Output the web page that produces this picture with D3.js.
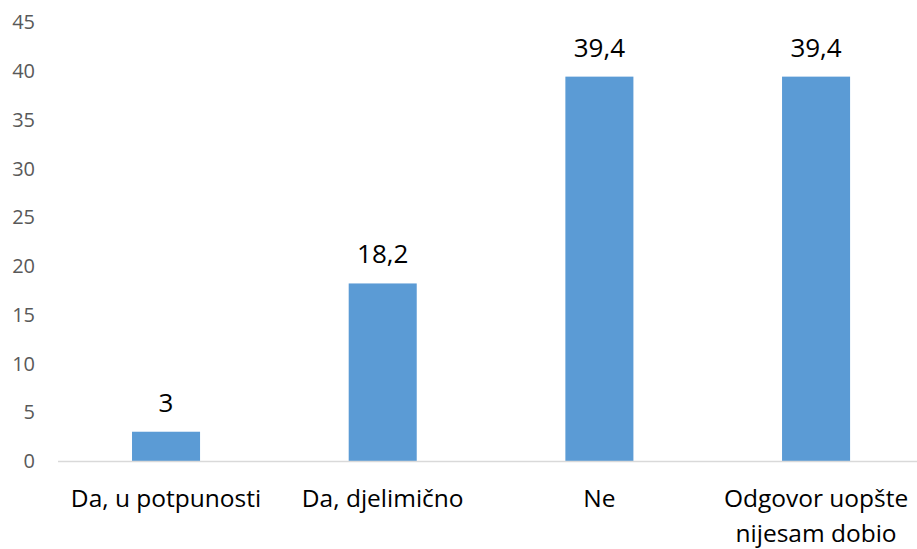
<!DOCTYPE html>
<html><head><meta charset="utf-8">
<script src="https://cdn.jsdelivr.net/npm/d3@7"></script>
<style>body{margin:0;background:#fff;}svg{display:block;}</style>
</head><body>
<svg id="c" width="917" height="549"></svg>
<script>
const categories = ["Da, u potpunosti", "Da, djelimično", "Ne", "Odgovor uopšte nijesam dobio"];
const categoryLines = [["Da, u potpunosti"], ["Da, djelimično"], ["Ne"], ["Odgovor uopšte", "nijesam dobio"]];
const values = [3, 18.2, 39.4, 39.4];
const valueLabels = ["3", "18,2", "39,4", "39,4"];
const yTicks = [0, 5, 10, 15, 20, 25, 30, 35, 40, 45];

const svg = d3.select("#c");
const font = "'Open Sans', 'Liberation Sans', sans-serif";
const x = d3.scaleBand().domain(categories).range([57.7, 924.4]).paddingInner(0.686).paddingOuter(0.343);
const y = d3.scaleLinear().domain([0, 45]).range([461, 22]);

// y tick labels
svg.append("g").selectAll("text").data(yTicks).join("text")
  .attr("x", 35).attr("y", d => y(d)).attr("dy", "0.36em")
  .attr("text-anchor", "end").attr("font-family", font).attr("font-size", 20)
  .attr("fill", "#595959").text(d => d);

// bars
svg.append("g").selectAll("rect").data(values).join("rect")
  .attr("x", (d, i) => x(categories[i])).attr("width", x.bandwidth())
  .attr("y", d => y(d)).attr("height", d => y(0) - y(d))
  .attr("fill", "#5B9BD5");

// baseline
svg.append("line").attr("x1", 58).attr("x2", 917).attr("y1", y(0) + 0.5).attr("y2", y(0) + 0.5)
  .attr("stroke", "#D9D9D9").attr("stroke-width", 1.5);

// value labels
svg.append("g").selectAll("text").data(values).join("text")
  .attr("x", (d, i) => x(categories[i]) + x.bandwidth() / 2).attr("y", d => y(d) - 20)
  .attr("text-anchor", "middle").attr("font-family", font).attr("font-size", 26)
  .attr("fill", "#000").text((d, i) => valueLabels[i]);

// category labels
svg.append("g").selectAll("text").data(categories).join("text")
  .attr("text-anchor", "middle").attr("font-family", font).attr("font-size", 24.5)
  .attr("fill", "#000")
  .each(function(d, i) {
    const t = d3.select(this);
    categoryLines[i].forEach((l, j) => t.append("tspan")
      .attr("x", x(d) + x.bandwidth() / 2).attr("y", 507 + j * 35).text(l));
  });
</script>
</body></html>
